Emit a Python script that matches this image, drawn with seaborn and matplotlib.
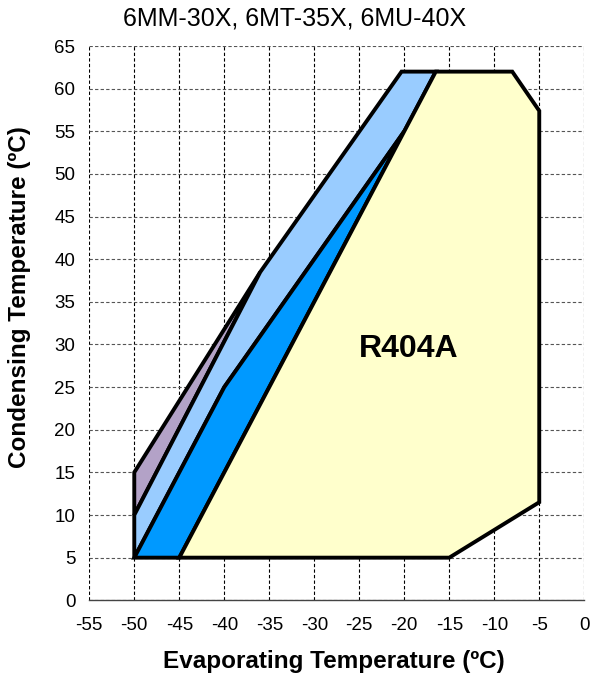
import matplotlib
matplotlib.use('Agg')
import matplotlib.pyplot as plt
import seaborn as sns

# Envelope outlines (evaporating temp, condensing temp)
purple_evap = [-50, -50, -36]
purple_cond = [10, 15, 38.5]

lightblue_evap = [-50, -50, -36, -20.3, -16.5, -20, -40]
lightblue_cond = [5, 10, 38.5, 62, 62, 55, 25]

blue_evap = [-50, -45, -20, -40]
blue_cond = [5, 5, 55, 25]

yellow_evap = [-45, -15, -5, -5, -8, -16.5]
yellow_cond = [5, 5, 11.5, 57.4, 62, 62]

x_ticks = list(range(-55, 1, 5))
y_ticks = list(range(0, 66, 5))

title = '6MM-30X, 6MT-35X, 6MU-40X'
refrigerant = 'R404A'

sns.set_style('white')
plt.rcParams['font.family'] = ['Liberation Sans', 'DejaVu Sans']
plt.rcParams['axes.unicode_minus'] = False
plt.rcParams['text.color'] = 'black'
plt.rcParams['axes.labelcolor'] = 'black'
plt.rcParams['xtick.labelcolor'] = 'black'
plt.rcParams['ytick.labelcolor'] = 'black'

fig = plt.figure(figsize=(5.98, 6.78), dpi=100)
ax = fig.add_axes([0.1493, 0.1146, 0.8277, 0.8175])

# Draw regions, back to front
regions = [
    (purple_evap, purple_cond, '#B3A2C7'),
    (lightblue_evap, lightblue_cond, '#99CCFF'),
    (blue_evap, blue_cond, '#0099FF'),
    (yellow_evap, yellow_cond, '#FFFFCC'),
]
for xs, ys, col in regions:
    ax.fill(xs, ys, facecolor=col, edgecolor='black', linewidth=2.8,
            joinstyle='miter', zorder=3)

ax.text(-19.5, 29.5, refrigerant, fontsize=23, fontweight='bold',
        ha='center', va='center', zorder=4)

ax.set_xlim(-55, 0)
ax.set_ylim(0, 65)
ax.set_xticks(x_ticks)
ax.set_yticks(y_ticks)

# Dashed grid
ax.grid(True, axis='x', linestyle=(0, (3, 2)), color='black', linewidth=0.8)
ax.grid(True, axis='y', linestyle=(0, (3, 2)), color='#555555', linewidth=0.8)
ax.set_axisbelow(True)

for side in ['top', 'right', 'left']:
    ax.spines[side].set_visible(False)
ax.spines['bottom'].set_color('#444444')
ax.spines['bottom'].set_linewidth(1.0)

ax.tick_params(axis='x', direction='out', length=4, width=1, color='#444444',
               pad=8, labelsize=13.5)
ax.tick_params(axis='y', length=0, pad=10, labelsize=13.5)

ax.set_xlabel('Evaporating Temperature (\u00baC)', fontsize=17.5, fontweight='bold')
ax.set_ylabel('Condensing Temperature (\u00baC)', fontsize=17.5, fontweight='bold')
ax.xaxis.set_label_coords(0.494, -0.09)
ax.yaxis.set_label_coords(-0.118, 0.547)

fig.text(0.492, 0.973, title, fontsize=18, ha='center', va='center')

fig.savefig('out.png', dpi=100)
